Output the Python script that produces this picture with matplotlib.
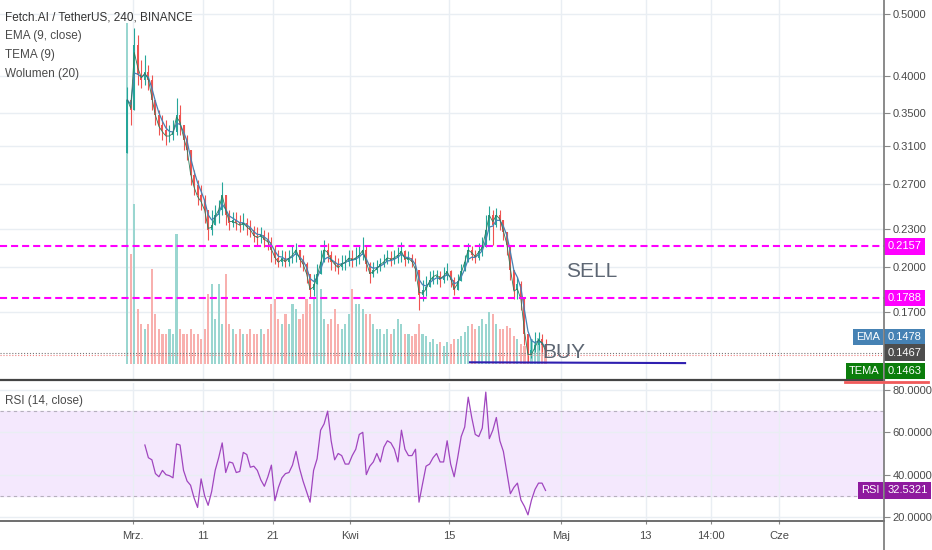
import matplotlib.pyplot as plt
import matplotlib.transforms as mtransforms
import numpy as np
import pandas as pd
from matplotlib.lines import Line2D
from matplotlib.ticker import FormatStrFormatter, NullLocator

plt.rcParams['font.family'] = ['Liberation Sans Narrow', 'Liberation Sans', 'DejaVu Sans']

# 12h candles, time in days from 1 Mar
T0 = -0.75
STEP = 0.5
FIRST_OPEN = 0.303
CLOSE = [.367, .354, .448, .401, .394, .406, .394, .367, .347, .335,
         .329, .323, .323, .326, .347, .335, .317, .306, .279, .269,
         .260, .255, .246, .229, .233, .242, .246, .260, .242, .235,
         .237, .235, .233, .235, .231, .229, .224, .223, .225, .221,
         .219, .213, .207, .204, .207, .204, .207, .209, .213, .205,
         .202, .195, .184, .188, .195, .204, .213, .209, .204, .202,
         .200, .203, .204, .207, .205, .207, .209, .213, .202, .195,
         .198, .200, .202, .204, .207, .205, .207, .209, .212, .205,
         .207, .204, .198, .181, .184, .186, .191, .193, .194, .191,
         .194, .197, .191, .184, .190, .197, .204, .213, .209, .207,
         .212, .215, .229, .242, .233, .242, .237, .227, .217, .198,
         .184, .188, .178, .157, .146, .148, .151, .154, .151, .1467]
HIGH = [.384, .373, .476, .464, .424, .432, .416, .401, .367, .354,
        .347, .341, .335, .341, .369, .360, .335, .323, .306, .284,
        .274, .269, .260, .246, .246, .251, .255, .272, .260, .246,
        .244, .244, .242, .243, .239, .237, .232, .231, .231, .229,
        .227, .223, .217, .213, .213, .212, .213, .217, .218, .213,
        .209, .204, .195, .195, .202, .213, .221, .218, .212, .209,
        .207, .209, .209, .213, .213, .215, .216, .223, .217, .204,
        .204, .205, .207, .210, .213, .212, .213, .215, .219, .213,
        .212, .210, .207, .198, .191, .194, .197, .198, .198, .197,
        .200, .203, .198, .193, .195, .202, .209, .218, .216, .213,
        .218, .223, .242, .250, .246, .248, .246, .237, .227, .217,
        .195, .193, .190, .178, .157, .154, .158, .158, .157, .154]
LOW = [.303, .335, .354, .387, .383, .387, .380, .354, .335, .323,
       .317, .312, .315, .317, .323, .323, .306, .295, .269, .260,
       .251, .246, .235, .221, .225, .233, .235, .242, .233, .229,
       .231, .229, .227, .229, .225, .223, .219, .216, .218, .215,
       .213, .204, .202, .200, .201, .200, .201, .203, .204, .200,
       .197, .189, .179, .180, .188, .195, .204, .204, .198, .197,
       .195, .198, .198, .201, .200, .201, .202, .205, .197, .189,
       .193, .196, .197, .200, .202, .201, .202, .203, .204, .201,
       .203, .200, .190, .171, .177, .180, .186, .188, .188, .186,
       .189, .191, .186, .181, .184, .190, .197, .204, .205, .203,
       .205, .208, .217, .221, .217, .231, .229, .221, .209, .191,
       .178, .178, .171, .151, .142, .144, .147, .148, .147, .145]
# volume, millions
VOLUME = [34.0, 11.0, 16.0, 5.5, 4.0, 3.5, 4.0, 9.5, 5.0, 3.5,
          3.0, 3.0, 3.5, 3.0, 13.0, 3.5, 3.0, 3.0, 3.5, 3.0,
          3.0, 2.5, 3.5, 7.0, 8.0, 4.5, 8.0, 4.0, 9.0, 4.0,
          3.5, 3.0, 3.5, 3.0, 3.0, 3.5, 3.0, 3.0, 3.5, 3.0,
          3.5, 6.0, 6.5, 4.5, 4.0, 5.0, 4.0, 6.0, 5.5, 4.5,
          5.0, 6.5, 6.0, 6.5, 8.5, 7.5, 4.5, 4.0, 4.5, 5.5,
          4.0, 3.5, 4.0, 5.0, 7.5, 6.0, 6.0, 5.5, 5.0, 5.0,
          4.0, 3.5, 3.5, 3.0, 3.5, 3.0, 3.5, 4.5, 4.0, 3.0,
          3.0, 2.8, 3.0, 4.0, 3.0, 2.8, 2.2, 2.5, 2.0, 2.2,
          1.8, 2.2, 2.0, 2.5, 2.5, 2.8, 3.2, 3.8, 4.0, 3.5,
          3.8, 4.5, 4.0, 5.2, 5.0, 4.0, 3.5, 3.5, 3.8, 3.6,
          2.8, 2.5, 2.0, 1.8, 2.2, 2.5, 2.2, 2.6, 2.0, 1.8]
RSI_START = 5
RSI = [54, 48, 47, 40.5, 39, 42, 40, 39.5, 38.5, 54.5,
       54, 42, 37, 35, 29, 24.5, 38, 30, 25.5, 32,
       42, 48, 55, 41, 46, 45.5, 41, 41.5, 50.5, 49.5,
       43.5, 44, 42, 37.5, 34.5, 39, 44.5, 27.7, 34, 38.5,
       40.5, 41, 44.5, 51, 43, 37, 32, 27, 42, 47.5,
       61, 64, 70, 56, 47, 50, 49, 45, 45, 49,
       52, 59, 60, 40, 44, 46, 50, 46, 53, 56,
       55, 52, 46, 61, 52, 49, 49, 52, 27, 35.6,
       44, 45, 48, 50, 46, 46, 56, 45, 39, 48,
       58, 62.5, 76.6, 67, 59, 58, 62, 79, 57, 61,
       67, 56, 51, 41, 31, 34, 36, 28, 25, 21,
       28, 33, 36, 36, 32.5321]

SELL_LEVEL = 0.2157
BUY_LEVEL = 0.1788
LAST_PRICE = 0.1467
EMA_LAST = 0.1478
TEMA_LAST = 0.1463
TREND_DAYS = [48.0, 78.6]
TREND_PRICES = [0.1417, 0.1413]

PRICE_TICKS = [0.17, 0.20, 0.23, 0.27, 0.31, 0.35, 0.40, 0.50]
RSI_TICKS = [20, 40, 60, 80]
DATE_TICKS = [0, 10, 20, 31, 45, 61, 73, 82.3, 92]
DATE_LABELS = ['Mrz.', '11', '21', 'Kwi', '15', 'Maj', '13', '14:00', 'Cze']

UP, DOWN = '#26a69a', '#ef5350'
VUP, VDOWN = '#9ad6d0', '#f8b0ae'
GRID = '#e9eef3'
TXT = '#4a4a4a'

W, H = 932, 550
fig = plt.figure(figsize=(W / 100, H / 100), dpi=100)
ax = fig.add_axes([0, (H - 380) / H, 884 / W, 380 / H])
ax2 = fig.add_axes([0, (H - 521) / H, 884 / W, 138 / H])

n = len(CLOSE)
t = T0 + STEP * np.arange(n)
close = np.array(CLOSE)
openp = np.r_[FIRST_OPEN, close[:-1]]
high = np.maximum(np.array(HIGH), np.maximum(openp, close))
low = np.minimum(np.array(LOW), np.minimum(openp, close))
up = close >= openp
col = np.where(up, UP, DOWN)

ax.set_yscale('log')
xlim = (-18.86, 106.9)

# volume in bottom of price pane
vtrans = mtransforms.blended_transform_factory(ax.transData, ax.transAxes)
vol = np.array(VOLUME)
ax.bar(t, vol / 36.3 * 0.957, bottom=0.042, width=0.3, color=np.where(up, VUP, VDOWN),
       transform=vtrans, zorder=1, linewidth=0)

ax.vlines(t, low, high, colors=col, linewidth=0.8, zorder=3)
ax.bar(t, np.abs(close - openp), bottom=np.minimum(openp, close), width=0.28,
       color=col, zorder=3, linewidth=0)

s = pd.Series(close)
e1 = s.ewm(span=3, adjust=False).mean()
e2 = e1.ewm(span=3, adjust=False).mean()
e3 = e2.ewm(span=3, adjust=False).mean()
tema = 3 * e1 - 3 * e2 + e3
ax.plot(t, e1, color='#4682b4', linewidth=0.9, zorder=4)
ax.plot(t, tema, color='#2e7d5b', linewidth=0.6, zorder=4)

for lvl in (SELL_LEVEL, BUY_LEVEL):
    ax.axhline(lvl, color='#ff00ff', linewidth=1.5, dashes=(3.4, 1.9), zorder=5)
ax.axhline(LAST_PRICE, color='#777777', linewidth=0.8, linestyle=':', zorder=5)
ax.axhline(TEMA_LAST * 0.993, color='#f08080', linewidth=0.8, linestyle=':', zorder=5)
ax.plot(TREND_DAYS, TREND_PRICES, color='#2f1fb0', linewidth=1.5, zorder=6)

ax.text(65.3, 0.197, 'SELL', fontsize=15, color='#5d6673', ha='center', va='center')
ax.text(61.4, LAST_PRICE, 'BUY', fontsize=15, color='#5d6673', ha='center', va='center', zorder=7)

ax.set_xlim(*xlim)
ax.set_ylim(0.1329, 0.5268)
ax.yaxis.tick_right()
ax.set_yticks(PRICE_TICKS)
ax.yaxis.set_major_formatter(FormatStrFormatter('%.4f'))
ax.yaxis.set_minor_locator(NullLocator())
ax.set_xticks(DATE_TICKS)
ax.tick_params(axis='x', length=0, labelbottom=False)
ax.tick_params(axis='y', length=4, color='#888888', labelsize=8, labelcolor=TXT, pad=2)
ax.grid(True, color=GRID, linewidth=1)
ax.set_axisbelow(True)
for sp in ('top', 'left', 'right'):
    ax.spines[sp].set_visible(False)
ax.spines['bottom'].set_color('#444444')
ax.spines['bottom'].set_linewidth(1.6)


def tag(axis, y, value, face, name=None, dy=0.0):
    trans = axis.get_yaxis_transform()
    axis.annotate(value, xy=(1, y), xycoords=trans, xytext=(2.5, dy), textcoords='offset points',
                  ha='left', va='center', fontsize=8, color='white', annotation_clip=False,
                  bbox=dict(boxstyle='square,pad=0.3', fc=face, ec='none'), zorder=10)
    if name:
        axis.annotate(name, xy=(1, y), xycoords=trans, xytext=(-3, dy), textcoords='offset points',
                      ha='right', va='center', fontsize=8, color='white', annotation_clip=False,
                      bbox=dict(boxstyle='square,pad=0.3', fc=face, ec='none'), zorder=10)


tag(ax, SELL_LEVEL, f'{SELL_LEVEL:.4f}', '#ff00ff')
tag(ax, BUY_LEVEL, f'{BUY_LEVEL:.4f}', '#ff00ff')
tag(ax, EMA_LAST, f'{EMA_LAST:.4f}', '#4682b4', 'EMA', dy=9.8)
tag(ax, LAST_PRICE, f'{LAST_PRICE:.4f}', '#4d4d4d')
tag(ax, TEMA_LAST, f'{TEMA_LAST:.4f}', '#0b7d0b', 'TEMA', dy=-12.7)

# RSI pane
trsi = t[RSI_START:]
ax2.axhspan(30, 70, color='#f4e8fd', zorder=0)
for lvl in (70, 30):
    ax2.axhline(lvl, color='#b5b0bd', linewidth=0.8, dashes=(3, 3), zorder=1)
ax2.plot(trsi, RSI, color='#a046bf', linewidth=0.9, zorder=3)
ax2.set_xlim(*xlim)
ax2.set_ylim(18.1, 83.3)
ax2.yaxis.tick_right()
ax2.set_yticks(RSI_TICKS)
ax2.yaxis.set_major_formatter(FormatStrFormatter('%.4f'))
ax2.set_xticks(DATE_TICKS)
ax2.set_xticklabels(DATE_LABELS)
ax2.tick_params(axis='x', length=2, color='#888888', labelsize=8, labelcolor=TXT, pad=5)
ax2.tick_params(axis='y', length=4, color='#888888', labelsize=8, labelcolor=TXT, pad=2)
ax2.grid(True, color=GRID, linewidth=1, zorder=0)
ax2.set_axisbelow(True)
for sp in ('top', 'left', 'right'):
    ax2.spines[sp].set_visible(False)
ax2.spines['bottom'].set_color('#555555')
ax2.spines['bottom'].set_linewidth(1.2)
tag(ax2, RSI[-1], f'{RSI[-1]:.4f}', '#8e1a9e', 'RSI')
ax2.text(0.006, 0.87, 'RSI (14, close)', transform=ax2.transAxes, fontsize=8.5, color=TXT,
         ha='left', va='center')

# right axis line over full height and a small red mark
fig.add_artist(Line2D([884 / W] * 2, [0, 1], color='#777777', linewidth=1.2))
fig.add_artist(Line2D([845 / W, 928 / W], [1 - 382 / H] * 2, color='#f05a5a', linewidth=2))

legend = ['Fetch.AI / TetherUS, 240, BINANCE', 'EMA (9, close)', 'TEMA (9)', 'Wolumen (20)']
for i, line in enumerate(legend):
    fig.text(5 / W, 1 - (18 + 18.5 * i) / H, line, fontsize=8.5,
             color='#333333' if i == 0 else TXT, ha='left', va='center')

fig.savefig('out.png', dpi=100, facecolor='white')
